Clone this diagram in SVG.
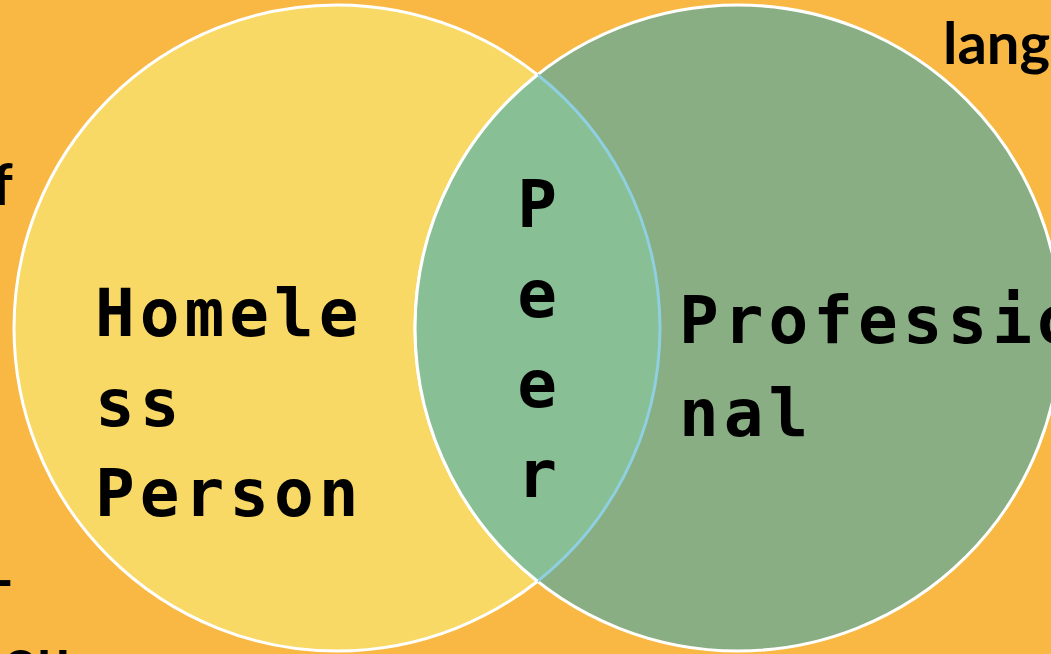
<svg xmlns="http://www.w3.org/2000/svg" width="1051" height="654" viewBox="0 0 1051 654">
<style>
.mono{font-family:"DejaVu Sans Mono","Liberation Mono",monospace;font-weight:bold;font-size:66px;letter-spacing:5px;fill:#000}
.edge{font-family:Lato,"Liberation Sans",sans-serif;font-weight:bold;font-size:58px;fill:#000}
</style>
<rect width="1051" height="654" fill="#F8B843"/>
<g id="edge-text">
<text class="edge" x="943" y="64">lang</text>
<text class="edge" x="-8" y="205">f</text>
<text class="edge" x="-8" y="600">-</text>
<text class="edge" x="4" y="680">ou</text>
</g>
<g id="homeless">
<circle cx="337" cy="328" r="323" fill="#F8D966" stroke="#fff" stroke-width="3"/>
</g>
<g id="professional">
<circle cx="738" cy="328" r="323" fill="#8AAE83" stroke="#fff" stroke-width="3"/>
</g>
<g id="peer">
<path d="M537.5,74.8 A323,323 0 0 1 537.5,581.2 A323,323 0 0 1 537.5,74.8 Z" fill="#88BF95"/>
<path d="M537.5,74.8 A323,323 0 0 1 537.5,581.2" fill="none" stroke="#8ECFE0" stroke-width="3"/>
<path d="M537.5,581.2 A323,323 0 0 1 537.5,74.8" fill="none" stroke="#fff" stroke-width="3"/>
</g>
<g id="labels">
<text class="mono" x="95" y="336">Homele</text>
<text class="mono" x="95" y="426">ss</text>
<text class="mono" x="95" y="516">Person</text>
<text class="mono" x="679" y="343">Professio</text>
<text class="mono" x="679" y="436">nal</text>
<g class="mono" text-anchor="middle" style="letter-spacing:0">
<text x="537" y="227">P</text>
<text x="537" y="317">e</text>
<text x="537" y="407">e</text>
<text x="537" y="497">r</text>
</g>
</g>
</svg>
